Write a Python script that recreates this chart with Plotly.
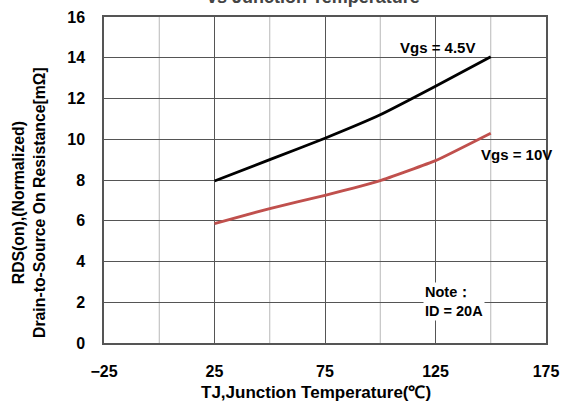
import plotly.graph_objects as go

# Junction temperature (°C) and on-resistance (mΩ)
temp = [25, 50, 75, 100, 125, 150]
rds_vgs45 = [7.95, 9.0, 10.05, 11.2, 12.6, 14.05]
rds_vgs10 = [5.86, 6.6, 7.25, 7.97, 8.95, 10.3]

x_ticks = [-25, 25, 75, 125, 175]
y_ticks = [0, 2, 4, 6, 8, 10, 12, 14, 16]
minor_x = [0, 50, 100, 150]

FONT = "Liberation Sans, Arial, sans-serif"

fig = go.Figure()
fig.add_trace(go.Scatter(x=temp, y=rds_vgs45, mode="lines",
                         line=dict(color="#000000", width=2.8, shape="spline", smoothing=0.3),
                         showlegend=False))
fig.add_trace(go.Scatter(x=temp, y=rds_vgs10, mode="lines",
                         line=dict(color="#c0504d", width=2.8, shape="spline", smoothing=0.3),
                         showlegend=False))

# lighter vertical grid lines between the labelled ticks
shapes = []
for xv in minor_x:
    shapes.append(dict(type="line", xref="x", yref="paper", x0=xv, x1=xv, y0=0, y1=1,
                       line=dict(color="#b8b8b8", width=1), layer="below"))

fig.update_layout(
    width=563, height=404,
    margin=dict(l=104, r=17, t=17, b=61),
    paper_bgcolor="white", plot_bgcolor="white",
    font=dict(family=FONT, color="#000000"),
    shapes=shapes,
    xaxis=dict(range=[-25, 175], tickvals=x_ticks, showgrid=True, gridcolor="#555555", gridwidth=1,
               zeroline=False, showline=True, linecolor="#555555", linewidth=1.5, mirror=True,
               automargin=False,
               ticks="outside", ticklen=13, tickcolor="rgba(0,0,0,0)",
               tickfont=dict(size=16, family=FONT, weight="bold")),
    yaxis=dict(range=[0, 16], tickvals=y_ticks, showgrid=True, gridcolor="#555555", gridwidth=1,
               zeroline=False, showline=True, linecolor="#555555", linewidth=1.5, mirror=True,
               automargin=False,
               ticks="outside", ticklen=14, tickcolor="rgba(0,0,0,0)",
               tickfont=dict(size=16, family=FONT, weight="bold")),
    annotations=[
        dict(text="<b>vs Junction Temperature</b>", xref="paper", yref="paper", x=0.473, y=1.06,
             showarrow=False, font=dict(size=18, color="#444444"), yanchor="middle"),
        # axis titles
        dict(text="<b>TJ,Junction Temperature(℃)</b>", xref="paper", yref="paper",
             x=(316 - 104) / 442, y=-(392 - 343) / 326, showarrow=False,
             font=dict(size=17), xanchor="center", yanchor="middle"),
        dict(text="<b>RDS(on),(Normalized)<br>Drain-to-Source On Resistance[mΩ]</b>",
             xref="paper", yref="paper", x=(29 - 104) / 442, y=(343 - 203) / 326,
             textangle=-90, showarrow=False, font=dict(size=15.8),
             xanchor="center", yanchor="middle", align="center"),
        # curve labels and test condition
        dict(text="<b>Vgs = 4.5V</b>", xref="x", yref="y", x=126, y=14.5, showarrow=False,
             font=dict(size=15), xanchor="center"),
        dict(text="<b>Vgs = 10V</b>", xref="x", yref="y", x=161.6, y=9.26, showarrow=False,
             font=dict(size=15), xanchor="center"),
        dict(text="<b>Note：<br>ID = 20A</b>", xref="x", yref="y", x=119.3, y=2.05, showarrow=False,
             font=dict(size=14.5), xanchor="left", align="left", bgcolor="white"),
    ],
)

fig.write_html("out.html")
